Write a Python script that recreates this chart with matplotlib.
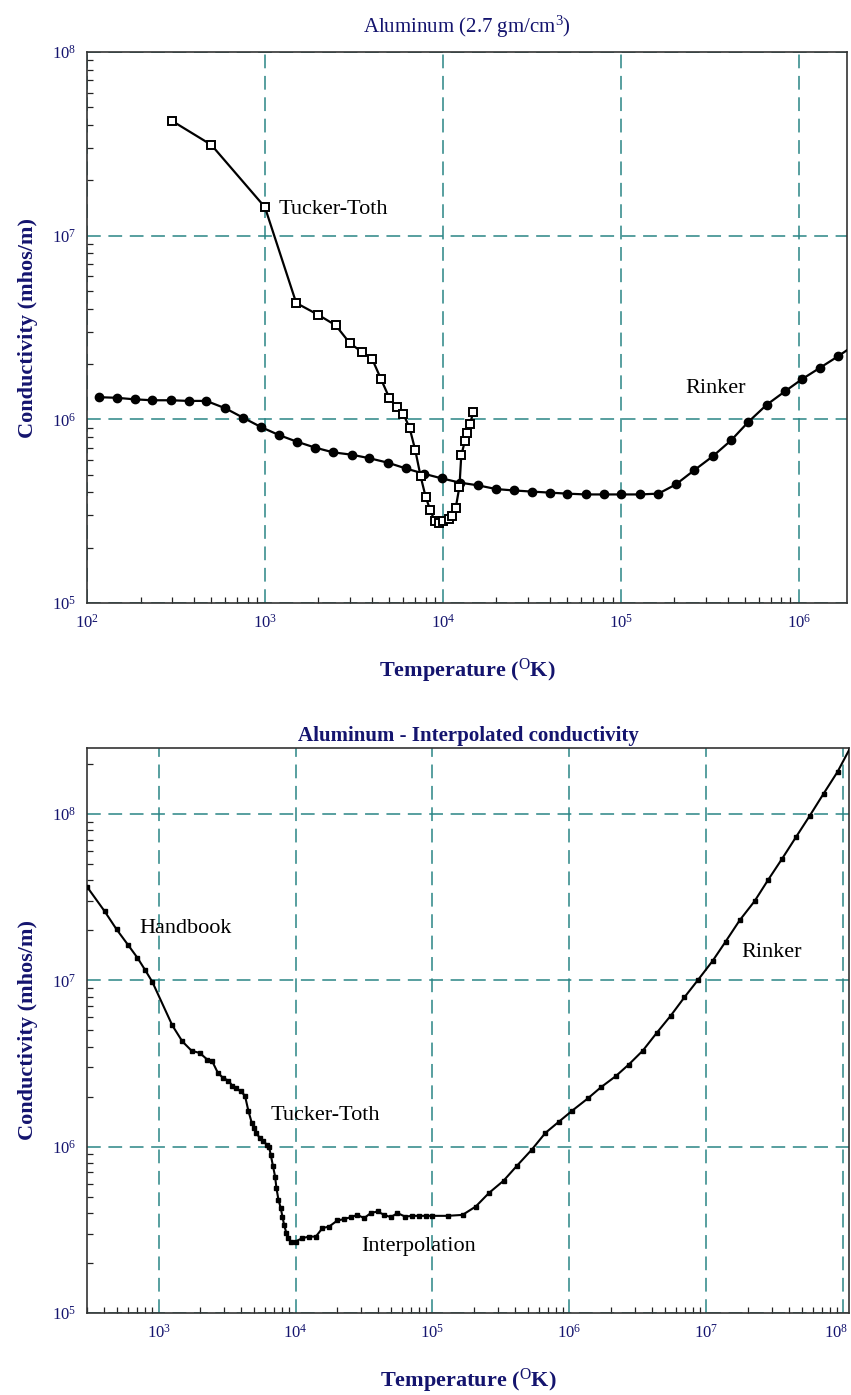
import math
import matplotlib
matplotlib.use("Agg")
import matplotlib.pyplot as plt
import matplotlib.transforms as mtransforms
from matplotlib.ticker import LogLocator, NullFormatter, FuncFormatter

plt.rcParams['font.family'] = ['Liberation Serif', 'DejaVu Serif']
plt.rcParams['mathtext.fontset'] = 'custom'
plt.rcParams['mathtext.rm'] = 'Liberation Serif'
plt.rcParams['mathtext.it'] = 'Liberation Serif:italic'
plt.rcParams['mathtext.bf'] = 'Liberation Serif:bold'

# ---------------- data (top panel) ----------------
rinker_T = [117, 147, 185, 233, 295, 372, 468, 600, 755, 950, 1200, 1510, 1920,
            2420, 3070, 3840, 4900, 6170, 7800, 9860, 1.25e4, 1.58e4, 2.0e4,
            2.51e4, 3.19e4, 3.99e4, 4.99e4, 6.35e4, 8.05e4, 1.01e5, 1.28e5,
            1.63e5, 2.04e5, 2.58e5, 3.29e5, 4.17e5, 5.21e5, 6.61e5, 8.38e5,
            1.04e6, 1.32e6, 1.66e6, 2.09e6]
rinker_sigma = [1.32e6, 1.31e6, 1.285e6, 1.27e6, 1.27e6, 1.26e6, 1.26e6, 1.148e6,
                1.02e6, 0.908e6, 0.821e6, 0.756e6, 0.701e6, 0.661e6, 0.642e6,
                0.615e6, 0.581e6, 0.541e6, 0.506e6, 0.477e6, 0.452e6, 0.437e6,
                0.417e6, 0.41e6, 0.404e6, 0.399e6, 0.394e6, 0.39e6, 0.39e6,
                0.39e6, 0.39e6, 0.394e6, 0.442e6, 0.527e6, 0.629e6, 0.768e6,
                0.967e6, 1.20e6, 1.42e6, 1.65e6, 1.91e6, 2.2e6, 2.56e6]

tt_T = [300, 500, 1000, 1500, 2000, 2500, 3000, 3500, 4000, 4500, 5000, 5500,
        6000, 6500, 7000, 7500, 8000, 8500, 9000, 9500, 10000, 10800, 11300,
        11800, 12400, 12700, 13300, 13700, 14200, 14800]
tt_sigma = [4.22e7, 3.12e7, 1.43e7, 4.3e6, 3.7e6, 3.25e6, 2.6e6, 2.33e6, 2.14e6,
            1.65e6, 1.31e6, 1.16e6, 1.07e6, 0.90e6, 0.68e6, 0.49e6, 0.38e6,
            0.32e6, 0.28e6, 0.273e6, 0.278e6, 0.286e6, 0.297e6, 0.327e6,
            0.43e6, 0.637e6, 0.76e6, 0.847e6, 0.94e6, 1.09e6]

# ---------------- data (bottom panel) ----------------
interp_T = [300, 403, 493, 600, 700, 800, 900, 1260, 1490, 1740, 2000, 2270, 2460,
            2710, 2960, 3230, 3450, 3650, 3980, 4270, 4520, 4790, 4970, 5170,
            5470, 5820, 6160, 6400, 6590, 6850, 7090, 7250, 7500, 7800, 8020,
            8250, 8570, 8870, 9230, 10000, 11200, 12560, 14060, 15720, 17580,
            20200, 22600, 25300, 28300, 31700, 35400, 39700, 44400, 49600,
            55500, 63100, 71400, 80000, 89500, 1.0e5, 1.288e5, 1.657e5, 2.07e5,
            2.59e5, 3.3e5, 4.14e5, 5.3e5, 6.67e5, 8.34e5, 1.05e6, 1.36e6,
            1.70e6, 2.17e6, 2.71e6, 3.43e6, 4.34e6, 5.50e6, 6.92e6, 8.71e6,
            1.11e7, 1.38e7, 1.75e7, 2.25e7, 2.81e7, 3.58e7, 4.49e7, 5.68e7,
            7.18e7, 9.08e7, 1.15e8]
interp_sigma = [3.66e7, 2.61e7, 2.03e7, 1.63e7, 1.37e7, 1.15e7, 9.8e6, 5.36e6,
                4.3e6, 3.78e6, 3.66e6, 3.34e6, 3.27e6, 2.78e6, 2.59e6, 2.5e6,
                2.33e6, 2.26e6, 2.15e6, 2.03e6, 1.65e6, 1.39e6, 1.30e6, 1.21e6,
                1.13e6, 1.08e6, 1.03e6, 1.0e6, 0.895e6, 0.761e6, 0.662e6,
                0.564e6, 0.48e6, 0.427e6, 0.38e6, 0.339e6, 0.302e6, 0.282e6,
                0.269e6, 0.269e6, 0.282e6, 0.288e6, 0.288e6, 0.324e6, 0.331e6,
                0.36e6, 0.367e6, 0.377e6, 0.389e6, 0.372e6, 0.399e6, 0.408e6,
                0.389e6, 0.377e6, 0.399e6, 0.38e6, 0.384e6, 0.384e6, 0.384e6,
                0.384e6, 0.384e6, 0.389e6, 0.437e6, 0.528e6, 0.624e6, 0.769e6,
                0.959e6, 1.21e6, 1.41e6, 1.65e6, 1.95e6, 2.28e6, 2.65e6, 3.12e6,
                3.78e6, 4.84e6, 6.15e6, 7.93e6, 1.01e7, 1.31e7, 1.71e7, 2.30e7,
                3.0e7, 4.0e7, 5.41e7, 7.24e7, 9.77e7, 1.33e8, 1.80e8, 2.6e8]

top_title = "Aluminum (2.7 gm/cm$^{3}$)"
bottom_title = "Aluminum - Interpolated conductivity"
xlabel = "Temperature ($^{\\rm O}$K)"
ylabel = "Conductivity (mhos/m)"

NAVY = '#14146e'
GRID = '#2a8585'

W, H = 851, 1395
fig = plt.figure(figsize=(W / 100, H / 100), dpi=100)
fig.patch.set_facecolor('white')


def px_axes(l, t, r, b):
    return fig.add_axes([l / W, 1 - b / H, (r - l) / W, (b - t) / H])


def fmt(v, pos):
    e = int(round(math.log10(v)))
    return r'$\mathregular{10^{%d}}$' % e


def style(ax):
    ax.set_xscale('log')
    ax.set_yscale('log')
    for s in ax.spines.values():
        s.set_color('#333333')
        s.set_linewidth(1.2)
    ax.xaxis.set_major_locator(LogLocator(base=10, numticks=20))
    ax.yaxis.set_major_locator(LogLocator(base=10, numticks=20))
    ax.xaxis.set_minor_locator(LogLocator(base=10, subs=range(2, 10), numticks=50))
    ax.yaxis.set_minor_locator(LogLocator(base=10, subs=range(2, 10), numticks=50))
    ax.xaxis.set_minor_formatter(NullFormatter())
    ax.yaxis.set_minor_formatter(NullFormatter())
    ax.xaxis.set_major_formatter(FuncFormatter(fmt))
    ax.yaxis.set_major_formatter(FuncFormatter(fmt))
    ax.tick_params(which='both', direction='in', top=False, right=False,
                   colors='#222222', labelcolor=NAVY, labelsize=12)
    ax.tick_params(which='major', length=0, pad=8)
    ax.tick_params(which='minor', length=4, width=0.9)
    ax.grid(True, which='major', color=GRID, linestyle=(0, (9, 5)), linewidth=1.1)
    ax.set_axisbelow(True)
    ax.set_xlabel(xlabel, color=NAVY, fontsize=16, fontweight='bold', labelpad=18)
    ax.set_ylabel(ylabel, color=NAVY, fontsize=16, fontweight='bold', labelpad=10)


# ---------------- top panel ----------------
ax1 = px_axes(87, 52, 847, 603)
style(ax1)
ax1.set_xlim(1e2, 1.87e6)
ax1.set_ylim(1e5, 1e8)
ax1.plot(rinker_T, rinker_sigma, color='black', lw=1.6, marker='o', ms=6,
         mfc='black', mec='black', clip_on=True, zorder=3)
ax1.plot(tt_T, tt_sigma, color='black', lw=1.6, marker='s', ms=6,
         mfc='white', mec='black', mew=1.4, zorder=4)
ax1.text(1.2e3, 1.38e7, "Tucker-Toth", fontsize=16, va='center', ha='left')
ax1.text(2.32e5, 1.47e6, "Rinker", fontsize=16, va='center', ha='left')
ax1.set_title(top_title, color=NAVY, fontsize=15, pad=14)

# ---------------- bottom panel ----------------
ax2 = px_axes(87, 748, 849, 1313)
style(ax2)
ax2.set_xlim(3e2, 1.1e8)
ax2.set_ylim(1e5, 2.5e8)
ax2.plot(interp_T, interp_sigma, color='black', lw=1.5, marker='s', ms=3.3,
         mfc='black', mec='black', zorder=3)
ax2.text(7.2e2, 2.05e7, "Handbook", fontsize=16, va='center', ha='left')
ax2.text(6.6e3, 1.55e6, "Tucker-Toth", fontsize=16, va='center', ha='left')
ax2.text(3.0e4, 2.5e5, "Interpolation", fontsize=16, va='center', ha='left')
ax2.text(1.81e7, 1.48e7, "Rinker", fontsize=16, va='center', ha='left')
ax2.set_title(bottom_title, color=NAVY, fontsize=15, fontweight='bold', pad=5)

# keep the last x tick label of the bottom panel inside the figure
fig.canvas.draw()
for lab in ax2.get_xticklabels():
    if '{8}' in lab.get_text():
        lab.set_transform(lab.get_transform() +
                          mtransforms.ScaledTranslation(-7 / 100, 0, fig.dpi_scale_trans))

fig.savefig("out.png", dpi=100, facecolor='white')
